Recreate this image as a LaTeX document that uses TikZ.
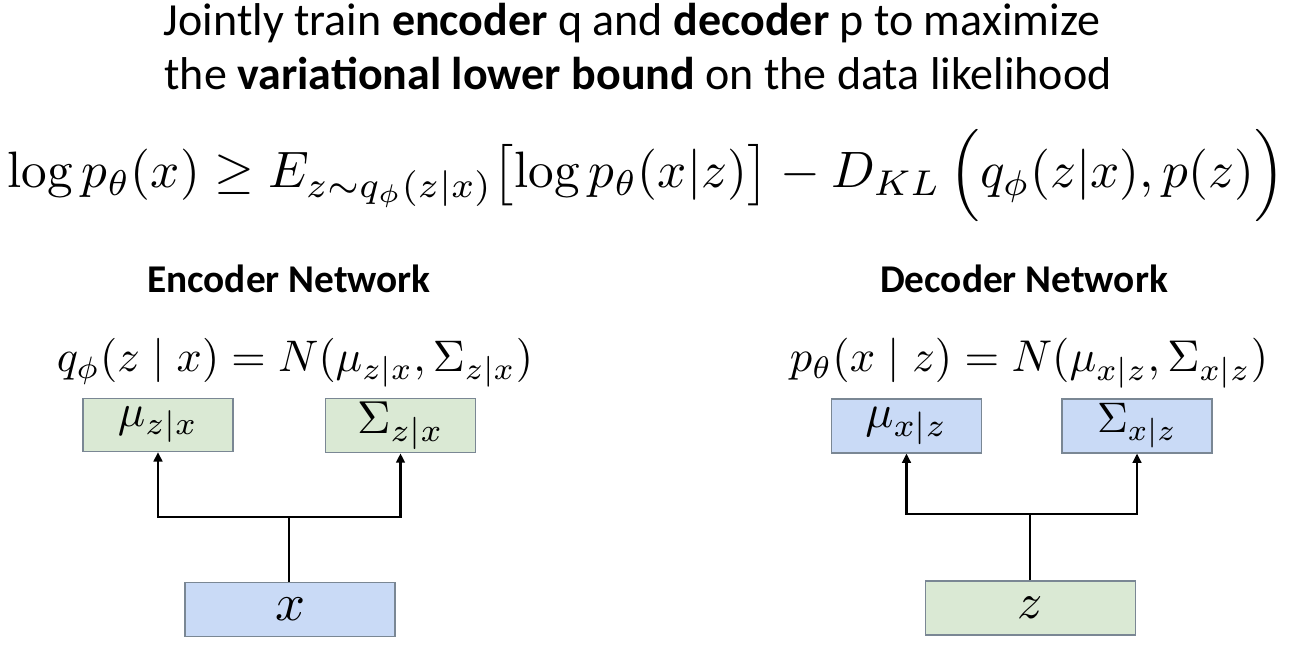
\documentclass[tikz,border=0pt]{standalone}
\usepackage{amsmath}
\usepackage[no-math]{fontspec}
\setmainfont{Carlito}
\usetikzlibrary{arrows.meta}
\definecolor{boxgreen}{HTML}{DAE9D4}
\definecolor{boxblue}{HTML}{C9DAF6}
\definecolor{boxline}{HTML}{7A8794}
\tikzset{
  netbox/.style={draw=boxline, line width=0.8pt, inner sep=0pt, minimum height=40pt},
  gbox/.style={netbox, fill=boxgreen},
  bbox/.style={netbox, fill=boxblue},
  link/.style={line width=2.2pt, line join=miter},
  linkarrow/.style={link, -{Triangle[length=7pt,width=6.5pt]}},
  titletext/.style={anchor=base, inner sep=0pt, font=\fontsize{34.5}{40}\selectfont},
  headtext/.style={anchor=base, inner sep=0pt, font=\bfseries\fontsize{29.5}{34}\selectfont},
  mathtext/.style={anchor=base, inner sep=0pt}
}
\begin{document}
\begin{tikzpicture}[x=0.75pt,y=-0.75pt]
\useasboundingbox (0,0) rectangle (1293,645);
\fill[white] (0,0) rectangle (1293,645);

\node[titletext] (t1) at (632,36) {Jointly train \textbf{encoder} q and \textbf{decoder} p to maximize};
\node[titletext] (t2) at (638,90) {the \textbf{variational lower bound} on the data likelihood};

\node[mathtext] (eq) at (646,188)
  {\resizebox{958pt}{!}{$\log p_\theta(x) \geq E_{z\sim q_\phi(z|x)}\bigl[\log p_\theta(x|z)\bigr] - D_{KL}\left(q_\phi(z|x), p(z)\vphantom{\Big|}\right)$}};

\node[headtext] (eh) at (289,293) {Encoder Network};
\node[headtext] (dh) at (1024,293) {Decoder Network};

\node[mathtext] (qe) at (295,372) {\resizebox{357pt}{!}{$q_\phi(z \mid x) = N(\mu_{z|x}, \Sigma_{z|x})$}};
\node[mathtext] (pe) at (1029,372) {\resizebox{358.5pt}{!}{$p_\theta(x \mid z) = N(\mu_{x|z}, \Sigma_{x|z})$}};

% encoder boxes
\node[gbox, minimum width=112.5pt, minimum height=40pt] (mue) at (158,425) {\resizebox{60pt}{!}{$\mu_{z|x}$}};
\node[gbox, minimum width=113pt, minimum height=41pt] (sige) at (400.5,425.5) {\resizebox{65pt}{!}{$\Sigma_{z|x}$}};
\node[bbox, minimum width=157.5pt, minimum height=41pt] (xe) at (290,609.5) {\resizebox{22.5pt}{!}{$x$}};

% decoder boxes
\node[bbox, minimum width=113pt, minimum height=40.5pt] (mud) at (906.5,426) {\resizebox{61.5pt}{!}{$\mu_{x|z}$}};
\node[bbox, minimum width=112.5pt, minimum height=40.5pt] (sigd) at (1137,426) {\resizebox{60pt}{!}{$\Sigma_{x|z}$}};
\node[gbox, minimum width=157pt, minimum height=40.5pt] (zd) at (1030.5,608) {\resizebox{19pt}{!}{$z$}};

% encoder connectors
\coordinate (je) at (289,517);
\draw[link] (xe.north -| je) -- (je);
\draw[linkarrow] (je) -| (mue.south);
\draw[linkarrow] (je) -| (sige.south);

% decoder connectors
\coordinate (jd) at (1030,514);
\draw[link] (zd.north -| jd) -- (jd);
\draw[linkarrow] (jd) -| (mud.south);
\draw[linkarrow] (jd) -| (sigd.south);
\end{tikzpicture}
\end{document}
